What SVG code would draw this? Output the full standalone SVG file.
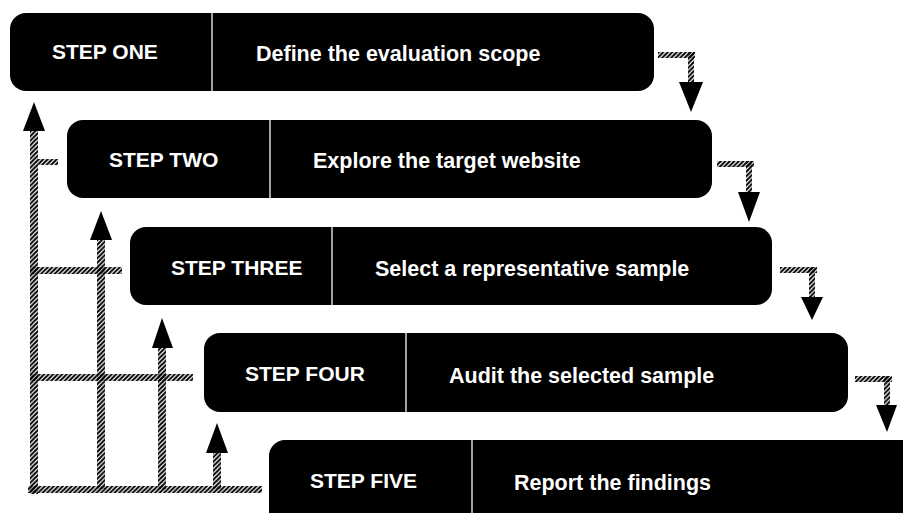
<svg xmlns="http://www.w3.org/2000/svg" width="903" height="513" viewBox="0 0 903 513">
  <defs>
    <!-- diagonal hatch used for every connector bar -->
    <pattern id="hatch" patternUnits="userSpaceOnUse" width="4.5" height="4.5">
      <path d="M-1,1 L1,-1 M0,4.5 L4.5,0 M3.5,5.5 L5.5,3.5" stroke="#000" stroke-width="2"/>
    </pattern>
    <style>
      .box { fill: #000; }
      .div { stroke: #d8d8d8; stroke-width: 1.5; }
      .lbl { fill: #fff; font-family: "Liberation Sans", Arial, sans-serif; font-weight: bold; font-size: 21px; }
      .wide { font-size: 21.5px; }
      .bar { fill: url(#hatch); }
      .head { fill: #000; }
    </style>
  </defs>

  <rect width="903" height="513" fill="#fff"/>

  <!-- connectors -->
  <g id="connectors">
    <!-- step-down links on the right -->
    <rect class="bar" x="658" y="52" width="37" height="6"/>
    <rect class="bar" x="688" y="52" width="6" height="31"/>
    <polygon class="head" points="679,82 703,82 691,112"/>

    <rect class="bar" x="717" y="161" width="37" height="6"/>
    <rect class="bar" x="746" y="161" width="6" height="32"/>
    <polygon class="head" points="738,192 760,192 749,222"/>

    <rect class="bar" x="780" y="267" width="37" height="6"/>
    <rect class="bar" x="809" y="267" width="6" height="31"/>
    <polygon class="head" points="801,297 823,297 812,320"/>

    <rect class="bar" x="855" y="376" width="37" height="6"/>
    <rect class="bar" x="884" y="376" width="6" height="30"/>
    <polygon class="head" points="876,405 897,405 887,432"/>

    <!-- feedback loops on the left -->
    <rect class="bar" x="30" y="130" width="8" height="364"/>
    <polygon class="head" points="23,131 45,131 34,102"/>
    <rect class="bar" x="38" y="159" width="20" height="6"/>
    <rect class="bar" x="30" y="267" width="92" height="7"/>
    <rect class="bar" x="30" y="374" width="163" height="7"/>
    <rect class="bar" x="28" y="486" width="234" height="7"/>

    <rect class="bar" x="97" y="239" width="8" height="250"/>
    <polygon class="head" points="90,240 112,240 101,211"/>

    <rect class="bar" x="158" y="347" width="8" height="142"/>
    <polygon class="head" points="152,348 173,348 162,318"/>

    <rect class="bar" x="213" y="452" width="8" height="37"/>
    <polygon class="head" points="206,453 228,453 217,423"/>
  </g>

  <!-- steps -->
  <g id="step1">
    <rect class="box" x="10" y="13" width="644" height="78" rx="16"/>
    <line class="div" x1="212" y1="13" x2="212" y2="91"/>
    <text class="lbl" x="52" y="59">STEP ONE</text>
    <text class="lbl wide" x="256" y="61">Define the evaluation scope</text>
  </g>
  <g id="step2">
    <rect class="box" x="67" y="120" width="645" height="78" rx="16"/>
    <line class="div" x1="270" y1="120" x2="270" y2="198"/>
    <text class="lbl" x="109" y="167">STEP TWO</text>
    <text class="lbl wide" x="313" y="168">Explore the target website</text>
  </g>
  <g id="step3">
    <rect class="box" x="130" y="227" width="642" height="78" rx="16"/>
    <line class="div" x1="332" y1="227" x2="332" y2="305"/>
    <text class="lbl" x="171" y="275">STEP THREE</text>
    <text class="lbl wide" x="375" y="276">Select a representative sample</text>
  </g>
  <g id="step4">
    <rect class="box" x="204" y="333" width="644" height="79" rx="16"/>
    <line class="div" x1="406" y1="333" x2="406" y2="412"/>
    <text class="lbl" x="245" y="381">STEP FOUR</text>
    <text class="lbl wide" x="449" y="383">Audit the selected sample</text>
  </g>
  <g id="step5">
    <rect class="box" x="269" y="440" width="660" height="90" rx="16"/>
    <line class="div" x1="472" y1="440" x2="472" y2="513"/>
    <text class="lbl" x="310" y="488">STEP FIVE</text>
    <text class="lbl wide" x="514" y="490">Report the findings</text>
  </g>
</svg>
